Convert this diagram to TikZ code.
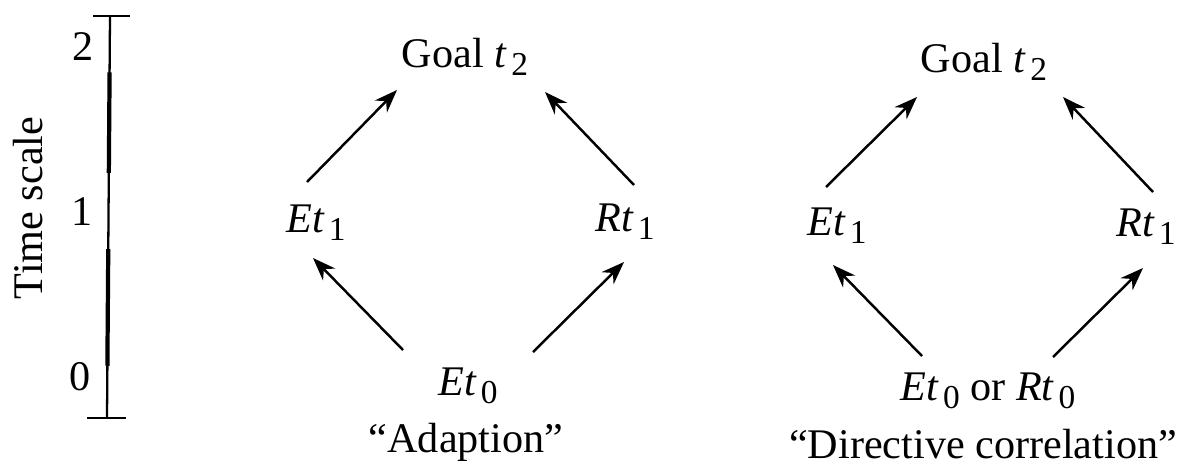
\documentclass[tikz,border=0pt]{standalone}
\usepackage{fontspec}
\setmainfont{Liberation Serif}
\usepackage{tikz}
\usetikzlibrary{arrows.meta,calc}

% lowered digit after an italic symbol
\newcommand{\lowsub}[1]{\kern1.2pt\raisebox{-2.4pt}{\fontsize{9.5}{9.5}\selectfont #1}}

\begin{document}
\begin{tikzpicture}[x=0.01cm, y=-0.01cm, font=\fontsize{12}{14}\selectfont,
  lbl/.style={inner sep=0pt, anchor=base},
  arr/.style={line width=0.7pt, -{Stealth[length=2.3mm, width=1.7mm]}},
  bar/.style={line width=0.65pt},
  thickbar/.style={line width=1.2pt}]
\useasboundingbox (0,0) rectangle (1182,463);
% time scale
\node[rotate=90, inner sep=0pt] (tscale) at (28,208) {Time scale};
\node[lbl] (two) at (83,60) {2};
\node[lbl] (one) at (82,225) {1};
\node[lbl] (zero) at (80,390) {0};
\coordinate (bartop) at (110,16);
\coordinate (barbot) at (107,418);
\draw[bar] (bartop) -- (barbot);
\draw[bar] ($(bartop)+(-17,0)$) -- ($(bartop)+(20,0)$);
\draw[bar] ($(barbot)+(-20,0)$) -- ($(barbot)+(19,0)$);
\draw[thickbar] ($(bartop)!0.14!(barbot)$) -- ($(bartop)!0.39!(barbot)$);
\draw[thickbar] ($(bartop)!0.58!(barbot)$) -- ($(bartop)!0.87!(barbot)$);
% "Adaption"
\node[lbl] (goalA) at (465,67) {Goal \textit{t}\lowsub{2}};
\node[lbl] (etA1) at (316,232) {\textit{Et}\lowsub{1}};
\node[lbl] (rtA1) at (625,231) {\textit{Rt}\lowsub{1}};
\node[lbl] (etA0) at (468,395) {\textit{Et}\lowsub{0}};
\node[lbl] (capA) at (466,452) {“Adaption”};
\draw[arr] ($(etA1.base)+(-9,-50)$) -- ($(goalA.base)+(-68,23)$);
\draw[arr] ($(rtA1.base)+(9,-46)$) -- ($(goalA.base)+(80,25)$);
\draw[arr] ($(etA0.base)+(-65,-45)$) -- ($(etA1.base)+(-3,26)$);
\draw[arr] ($(etA0.base)+(65,-43)$) -- ($(rtA1.base)+(-1,31)$);
% "Directive correlation"
\node[lbl] (goalB) at (984,72) {Goal \textit{t}\lowsub{2}};
\node[lbl] (etB1) at (837,235) {\textit{Et}\lowsub{1}};
\node[lbl] (rtB1) at (1146,236) {\textit{Rt}\lowsub{1}};
\node[lbl] (etB0) at (988,400) {\textit{Et}\lowsub{0} or \textit{Rt}\lowsub{0}};
\node[lbl] (capB) at (983,458) {“Directive correlation”};
\draw[arr] ($(etB1.base)+(-11,-48)$) -- ($(goalB.base)+(-67,25)$);
\draw[arr] ($(rtB1.base)+(7,-44)$) -- ($(goalB.base)+(79,25)$);
\draw[arr] ($(etB0.base)+(-66,-44)$) -- ($(etB1.base)+(-4,30)$);
\draw[arr] ($(etB0.base)+(65,-43)$) -- ($(rtB1.base)+(-3,32)$);
\end{tikzpicture}
\end{document}
